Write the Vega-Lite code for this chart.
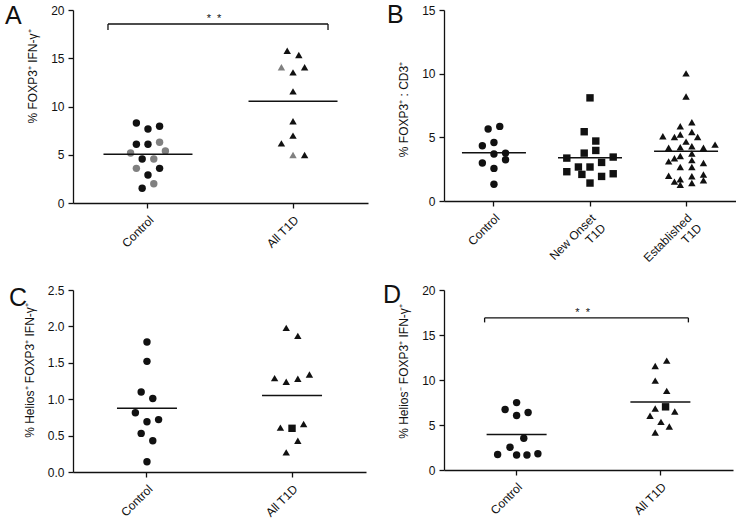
{
  "$schema": "https://vega.github.io/schema/vega-lite/v6.json",
  "padding": {"left": 5, "top": 3, "right": 0, "bottom": 0},
  "background": "white",
  "config": {
    "view": {"stroke": null},
    "font": "Liberation Sans",
    "axis": {
      "domainColor": "#111", "domainWidth": 1.3, "tickColor": "#111", "tickWidth": 1.3, "tickSize": 5,
      "labelColor": "#111", "labelFontSize": 12, "labelFont": "Liberation Sans", "labelPadding": 4, "labelOverlap": false,
      "titleColor": "#111", "titleFontSize": 12, "titleFontWeight": "normal", "titleFont": "Liberation Sans",
      "grid": false
    },
    "axisX": {"labelAngle": -45, "labelAlign": "right", "labelBaseline": "top", "labelPadding": 6, "title": null},
    "axisY": {"titlePadding": 11},
    "title": {"font": "Liberation Sans", "fontSize": 25, "fontWeight": "normal", "anchor": "start", "frame": "group", "color": "#111", "baseline": "alphabetic"}
  },
  "datasets": {
    "A": [
      {"group": "Control", "slot": -2, "value": 8.29, "cohort": "Control", "batch": "1"},
      {"group": "Control", "slot": 0, "value": 7.67, "cohort": "Control", "batch": "1"},
      {"group": "Control", "slot": 2, "value": 7.95, "cohort": "Control", "batch": "1"},
      {"group": "Control", "slot": -2, "value": 6.08, "cohort": "Control", "batch": "1"},
      {"group": "Control", "slot": 0, "value": 6.08, "cohort": "Control", "batch": "1"},
      {"group": "Control", "slot": 2, "value": 6.29, "cohort": "Control", "batch": "2"},
      {"group": "Control", "slot": -3, "value": 5.18, "cohort": "Control", "batch": "2"},
      {"group": "Control", "slot": 3, "value": 5.39, "cohort": "Control", "batch": "2"},
      {"group": "Control", "slot": -1, "value": 4.56, "cohort": "Control", "batch": "1"},
      {"group": "Control", "slot": 1, "value": 4.56, "cohort": "Control", "batch": "2"},
      {"group": "Control", "slot": -2, "value": 3.59, "cohort": "Control", "batch": "2"},
      {"group": "Control", "slot": 2, "value": 3.59, "cohort": "Control", "batch": "1"},
      {"group": "Control", "slot": 0, "value": 2.9, "cohort": "Control", "batch": "1"},
      {"group": "Control", "slot": 1, "value": 2.0, "cohort": "Control", "batch": "2"},
      {"group": "Control", "slot": -1, "value": 1.52, "cohort": "Control", "batch": "1"},
      {"group": "All T1D", "slot": -1, "value": 15.78, "cohort": "T1D", "batch": "1"},
      {"group": "All T1D", "slot": 1, "value": 15.34, "cohort": "T1D", "batch": "1"},
      {"group": "All T1D", "slot": -2, "value": 14.06, "cohort": "T1D", "batch": "2"},
      {"group": "All T1D", "slot": 2, "value": 14.06, "cohort": "T1D", "batch": "1"},
      {"group": "All T1D", "slot": 0, "value": 13.54, "cohort": "T1D", "batch": "1"},
      {"group": "All T1D", "slot": 0, "value": 11.57, "cohort": "T1D", "batch": "1"},
      {"group": "All T1D", "slot": 0, "value": 8.47, "cohort": "T1D", "batch": "1"},
      {"group": "All T1D", "slot": 0, "value": 6.98, "cohort": "T1D", "batch": "1"},
      {"group": "All T1D", "slot": -2, "value": 6.18, "cohort": "T1D", "batch": "1"},
      {"group": "All T1D", "slot": 0, "value": 4.97, "cohort": "T1D", "batch": "2"},
      {"group": "All T1D", "slot": 2, "value": 4.97, "cohort": "T1D", "batch": "1"}
    ],
    "B": [
      {"group": "Control", "slot": -1, "value": 5.65, "cohort": "Control"},
      {"group": "Control", "slot": 1, "value": 5.86, "cohort": "Control"},
      {"group": "Control", "slot": -2, "value": 4.34, "cohort": "Control"},
      {"group": "Control", "slot": 0, "value": 4.6, "cohort": "Control"},
      {"group": "Control", "slot": 0, "value": 3.69, "cohort": "Control"},
      {"group": "Control", "slot": 2, "value": 3.76, "cohort": "Control"},
      {"group": "Control", "slot": 2, "value": 3.24, "cohort": "Control"},
      {"group": "Control", "slot": -2, "value": 2.98, "cohort": "Control"},
      {"group": "Control", "slot": 0, "value": 2.56, "cohort": "Control"},
      {"group": "Control", "slot": 0, "value": 1.31, "cohort": "Control"},
      {"group": "New Onset T1D", "slot": 0, "value": 8.1, "cohort": "New onset T1D"},
      {"group": "New Onset T1D", "slot": -1, "value": 5.44, "cohort": "New onset T1D"},
      {"group": "New Onset T1D", "slot": 1, "value": 4.71, "cohort": "New onset T1D"},
      {"group": "New Onset T1D", "slot": 1, "value": 3.97, "cohort": "New onset T1D"},
      {"group": "New Onset T1D", "slot": -1, "value": 3.76, "cohort": "New onset T1D"},
      {"group": "New Onset T1D", "slot": -4, "value": 3.37, "cohort": "New onset T1D"},
      {"group": "New Onset T1D", "slot": 4, "value": 3.45, "cohort": "New onset T1D"},
      {"group": "New Onset T1D", "slot": 2, "value": 3.03, "cohort": "New onset T1D"},
      {"group": "New Onset T1D", "slot": -2, "value": 2.67, "cohort": "New onset T1D"},
      {"group": "New Onset T1D", "slot": 0, "value": 2.67, "cohort": "New onset T1D"},
      {"group": "New Onset T1D", "slot": -4, "value": 2.3, "cohort": "New onset T1D"},
      {"group": "New Onset T1D", "slot": -1.4, "value": 2.09, "cohort": "New onset T1D"},
      {"group": "New Onset T1D", "slot": 2, "value": 1.93, "cohort": "New onset T1D"},
      {"group": "New Onset T1D", "slot": 4, "value": 2.14, "cohort": "New onset T1D"},
      {"group": "New Onset T1D", "slot": 0, "value": 1.41, "cohort": "New onset T1D"},
      {"group": "Established T1D", "slot": 0, "value": 10.02, "cohort": "Established T1D"},
      {"group": "Established T1D", "slot": 0, "value": 8.21, "cohort": "Established T1D"},
      {"group": "Established T1D", "slot": 1, "value": 6.18, "cohort": "Established T1D"},
      {"group": "Established T1D", "slot": -1, "value": 5.87, "cohort": "Established T1D"},
      {"group": "Established T1D", "slot": -4, "value": 5.08, "cohort": "Established T1D"},
      {"group": "Established T1D", "slot": -2, "value": 5.03, "cohort": "Established T1D"},
      {"group": "Established T1D", "slot": -1, "value": 5.22, "cohort": "Established T1D"},
      {"group": "Established T1D", "slot": 1, "value": 5.42, "cohort": "Established T1D"},
      {"group": "Established T1D", "slot": 2, "value": 5.03, "cohort": "Established T1D"},
      {"group": "Established T1D", "slot": 0, "value": 4.66, "cohort": "Established T1D"},
      {"group": "Established T1D", "slot": 5, "value": 4.43, "cohort": "Established T1D"},
      {"group": "Established T1D", "slot": -3, "value": 4.18, "cohort": "Established T1D"},
      {"group": "Established T1D", "slot": -1, "value": 4.22, "cohort": "Established T1D"},
      {"group": "Established T1D", "slot": 1, "value": 4.3, "cohort": "Established T1D"},
      {"group": "Established T1D", "slot": 3, "value": 4.18, "cohort": "Established T1D"},
      {"group": "Established T1D", "slot": 1, "value": 3.73, "cohort": "Established T1D"},
      {"group": "Established T1D", "slot": -1, "value": 3.54, "cohort": "Established T1D"},
      {"group": "Established T1D", "slot": -2, "value": 3.36, "cohort": "Established T1D"},
      {"group": "Established T1D", "slot": -3, "value": 3.11, "cohort": "Established T1D"},
      {"group": "Established T1D", "slot": 1, "value": 3.21, "cohort": "Established T1D"},
      {"group": "Established T1D", "slot": 3, "value": 2.99, "cohort": "Established T1D"},
      {"group": "Established T1D", "slot": -1, "value": 2.67, "cohort": "Established T1D"},
      {"group": "Established T1D", "slot": 1, "value": 2.67, "cohort": "Established T1D"},
      {"group": "Established T1D", "slot": -3, "value": 1.98, "cohort": "Established T1D"},
      {"group": "Established T1D", "slot": -2, "value": 1.52, "cohort": "Established T1D"},
      {"group": "Established T1D", "slot": -1, "value": 1.71, "cohort": "Established T1D"},
      {"group": "Established T1D", "slot": -1, "value": 1.27, "cohort": "Established T1D"},
      {"group": "Established T1D", "slot": 1, "value": 1.94, "cohort": "Established T1D"},
      {"group": "Established T1D", "slot": 1, "value": 1.41, "cohort": "Established T1D"},
      {"group": "Established T1D", "slot": 3, "value": 2.08, "cohort": "Established T1D"},
      {"group": "Established T1D", "slot": 3, "value": 1.63, "cohort": "Established T1D"}
    ],
    "C": [
      {"group": "Control", "slot": 0, "value": 1.786, "cohort": "Control"},
      {"group": "Control", "slot": 0, "value": 1.52, "cohort": "Control"},
      {"group": "Control", "slot": -1, "value": 1.1, "cohort": "Control"},
      {"group": "Control", "slot": 1, "value": 1.01, "cohort": "Control"},
      {"group": "Control", "slot": -2, "value": 0.815, "cohort": "Control"},
      {"group": "Control", "slot": 0, "value": 0.69, "cohort": "Control"},
      {"group": "Control", "slot": 2, "value": 0.72, "cohort": "Control"},
      {"group": "Control", "slot": -1, "value": 0.53, "cohort": "Control"},
      {"group": "Control", "slot": 1, "value": 0.43, "cohort": "Control"},
      {"group": "Control", "slot": 0, "value": 0.14, "cohort": "Control"},
      {"group": "All T1D", "slot": -1, "value": 1.98, "cohort": "T1D"},
      {"group": "All T1D", "slot": 1, "value": 1.87, "cohort": "T1D"},
      {"group": "All T1D", "slot": -3, "value": 1.29, "cohort": "T1D"},
      {"group": "All T1D", "slot": -1, "value": 1.24, "cohort": "T1D"},
      {"group": "All T1D", "slot": 1, "value": 1.28, "cohort": "T1D"},
      {"group": "All T1D", "slot": 3, "value": 1.34, "cohort": "T1D"},
      {"group": "All T1D", "slot": -2, "value": 0.61, "cohort": "T1D"},
      {"group": "All T1D", "slot": 0, "value": 0.6, "cohort": "New onset T1D"},
      {"group": "All T1D", "slot": 2, "value": 0.66, "cohort": "T1D"},
      {"group": "All T1D", "slot": 1, "value": 0.43, "cohort": "T1D"},
      {"group": "All T1D", "slot": -1, "value": 0.27, "cohort": "T1D"}
    ],
    "D": [
      {"group": "Control", "slot": 0, "value": 7.49, "cohort": "Control"},
      {"group": "Control", "slot": -2, "value": 6.72, "cohort": "Control"},
      {"group": "Control", "slot": 0, "value": 6.05, "cohort": "Control"},
      {"group": "Control", "slot": 2, "value": 6.39, "cohort": "Control"},
      {"group": "Control", "slot": 1.25, "value": 3.52, "cohort": "Control"},
      {"group": "Control", "slot": -1.15, "value": 2.52, "cohort": "Control"},
      {"group": "Control", "slot": -3.3, "value": 1.73, "cohort": "Control"},
      {"group": "Control", "slot": 0, "value": 1.66, "cohort": "Control"},
      {"group": "Control", "slot": 1.8, "value": 1.66, "cohort": "Control"},
      {"group": "Control", "slot": 3.7, "value": 1.81, "cohort": "Control"},
      {"group": "All T1D", "slot": 1.1, "value": 12.15, "cohort": "T1D"},
      {"group": "All T1D", "slot": -0.9, "value": 11.56, "cohort": "T1D"},
      {"group": "All T1D", "slot": -0.9, "value": 9.93, "cohort": "T1D"},
      {"group": "All T1D", "slot": 1.1, "value": 8.79, "cohort": "T1D"},
      {"group": "All T1D", "slot": 0.9, "value": 7.02, "cohort": "New onset T1D"},
      {"group": "All T1D", "slot": -0.9, "value": 6.83, "cohort": "T1D"},
      {"group": "All T1D", "slot": 2.5, "value": 6.5, "cohort": "T1D"},
      {"group": "All T1D", "slot": -1.8, "value": 6.02, "cohort": "T1D"},
      {"group": "All T1D", "slot": 0.1, "value": 5.35, "cohort": "T1D"},
      {"group": "All T1D", "slot": 1.55, "value": 4.83, "cohort": "T1D"},
      {"group": "All T1D", "slot": -0.9, "value": 4.17, "cohort": "T1D"}
    ],
    "sigA": [{"from": "Control", "to": "All T1D", "top": 18.55, "foot": 17.93, "label": "*\u00a0\u00a0*"}],
    "sigD": [{"from": "Control", "to": "All T1D", "top": 16.9, "foot": 16.4, "label": "*\u00a0\u00a0*"}]
  },
  "columns": 2,
  "spacing": {"row": 9, "column": 15},
  "resolve": {"scale": {"x": "independent", "y": "independent", "xOffset": "independent", "shape": "independent", "color": "independent"}},
  "concat": [
    {
      "width": 295, "height": 193,
      "title": {"text": "A", "dx": -68, "offset": -25},
      "layer": [
        {
          "data": {"name": "A"},
          "mark": {"type": "point", "filled": true, "size": 55, "opacity": 1, "strokeWidth": 0},
          "encoding": {
            "x": {"field": "group", "type": "nominal", "scale": {"domain": ["Control", "All T1D"], "paddingInner": 0, "paddingOuter": 0.017}},
            "xOffset": {"field": "slot", "type": "quantitative", "scale": {"domain": [-12.5, 12.5]}},
            "y": {"field": "value", "type": "quantitative", "scale": {"domain": [0, 20], "nice": false}, "axis": {"values": [0, 5, 10, 15, 20], "title": "% FOXP3⁺ IFN-γ⁺", "titleY": 66}},
            "shape": {"field": "cohort", "type": "nominal", "legend": null, "scale": {"domain": ["Control", "New onset T1D", "Established T1D", "T1D"], "range": ["circle", "square", "triangle-up", "triangle-up"]}},
            "color": {"field": "batch", "type": "nominal", "legend": null, "scale": {"domain": ["1", "2"], "range": ["#111111", "#808080"]}}
          }
        },
        {
          "data": {"name": "A"},
          "mark": {"type": "tick", "orient": "horizontal", "size": 89, "thickness": 1.5, "color": "#111"},
          "encoding": {
            "x": {"field": "group", "type": "nominal"},
            "y": {"aggregate": "mean", "field": "value", "type": "quantitative", "axis": {"values": [0, 5, 10, 15, 20], "title": "% FOXP3⁺ IFN-γ⁺", "titleY": 66}}
          }
        },
        {
          "data": {"name": "sigA"},
          "mark": {"type": "rule", "xOffset": -40, "x2Offset": 35, "strokeWidth": 1.3, "color": "#111"},
          "encoding": {"x": {"field": "from", "type": "nominal"}, "x2": {"field": "to"}, "y": {"field": "top", "type": "quantitative", "axis": {"values": [0, 5, 10, 15, 20], "title": "% FOXP3⁺ IFN-γ⁺", "titleY": 66}}}
        },
        {
          "data": {"name": "sigA"},
          "mark": {"type": "rule", "xOffset": -40, "strokeWidth": 1.3, "color": "#111"},
          "encoding": {"x": {"field": "from", "type": "nominal"}, "y": {"field": "top", "type": "quantitative", "axis": {"values": [0, 5, 10, 15, 20], "title": "% FOXP3⁺ IFN-γ⁺", "titleY": 66}}, "y2": {"field": "foot"}}
        },
        {
          "data": {"name": "sigA"},
          "mark": {"type": "rule", "xOffset": 35, "strokeWidth": 1.3, "color": "#111"},
          "encoding": {"x": {"field": "to", "type": "nominal"}, "y": {"field": "top", "type": "quantitative", "axis": {"values": [0, 5, 10, 15, 20], "title": "% FOXP3⁺ IFN-γ⁺", "titleY": 66}}, "y2": {"field": "foot"}}
        },
        {
          "data": {"name": "sigA"},
          "mark": {"type": "text", "dx": 66, "dy": -2, "baseline": "alphabetic", "align": "center", "fontSize": 11, "color": "#111", "font": "Liberation Sans"},
          "encoding": {"x": {"field": "from", "type": "nominal"}, "y": {"field": "top", "type": "quantitative", "axis": {"values": [0, 5, 10, 15, 20], "title": "% FOXP3⁺ IFN-γ⁺", "titleY": 66}}, "text": {"field": "label"}}
        }
      ]
    },
    {
      "width": 292, "height": 191,
      "title": {"text": "B", "dx": -57, "offset": -24},
      "layer": [
        {
          "data": {"name": "B"},
          "mark": {"type": "point", "filled": true, "size": 55, "opacity": 1, "strokeWidth": 0, "color": "#111"},
          "encoding": {
            "x": {"field": "group", "type": "nominal", "scale": {"domain": ["Control", "New Onset T1D", "Established T1D"], "paddingInner": 0, "paddingOuter": 0.02},
                  "axis": {"labelExpr": "datum.value == 'New Onset T1D' ? ['New Onset', 'T1D'] : datum.value == 'Established T1D' ? ['Established', 'T1D'] : datum.value"}},
            "xOffset": {"field": "slot", "type": "quantitative", "scale": {"domain": [-8.28, 8.28]}},
            "y": {"field": "value", "type": "quantitative", "scale": {"domain": [0, 15], "nice": false}, "axis": {"values": [0, 5, 10, 15], "title": "% FOXP3⁺ : CD3⁺", "titleY": 99}},
            "shape": {"field": "cohort", "type": "nominal", "legend": null, "scale": {"domain": ["Control", "New onset T1D", "Established T1D", "T1D"], "range": ["circle", "square", "triangle-up", "triangle-up"]}}
          }
        },
        {
          "data": {"name": "B"},
          "mark": {"type": "tick", "orient": "horizontal", "size": 64, "thickness": 1.5, "color": "#111"},
          "encoding": {
            "x": {"field": "group", "type": "nominal", "axis": {"labelExpr": "datum.value == 'New Onset T1D' ? ['New Onset', 'T1D'] : datum.value == 'Established T1D' ? ['Established', 'T1D'] : datum.value"}},
            "y": {"aggregate": "mean", "field": "value", "type": "quantitative", "axis": {"values": [0, 5, 10, 15], "title": "% FOXP3⁺ : CD3⁺", "titleY": 99}}
          }
        }
      ]
    },
    {
      "width": 293, "height": 182,
      "title": {"text": "C", "dx": -64, "offset": -27},
      "layer": [
        {
          "data": {"name": "C"},
          "mark": {"type": "point", "filled": true, "size": 55, "opacity": 1, "strokeWidth": 0, "color": "#111"},
          "encoding": {
            "x": {"field": "group", "type": "nominal", "scale": {"domain": ["Control", "All T1D"], "paddingInner": 0, "paddingOuter": 0.01}},
            "xOffset": {"field": "slot", "type": "quantitative", "scale": {"domain": [-12.5, 12.5]}},
            "y": {"field": "value", "type": "quantitative", "scale": {"domain": [0, 2.5], "nice": false}, "axis": {"values": [0, 0.5, 1, 1.5, 2, 2.5], "format": ".1f", "title": "% Helios⁺ FOXP3⁺ IFN-γ⁺", "titleY": 80}},
            "shape": {"field": "cohort", "type": "nominal", "legend": null, "scale": {"domain": ["Control", "New onset T1D", "Established T1D", "T1D"], "range": ["circle", "square", "triangle-up", "triangle-up"]}}
          }
        },
        {
          "data": {"name": "C"},
          "mark": {"type": "tick", "orient": "horizontal", "size": 60, "thickness": 1.5, "color": "#111"},
          "encoding": {
            "x": {"field": "group", "type": "nominal"},
            "y": {"aggregate": "mean", "field": "value", "type": "quantitative", "axis": {"values": [0, 0.5, 1, 1.5, 2, 2.5], "format": ".1f", "title": "% Helios⁺ FOXP3⁺ IFN-γ⁺", "titleY": 80}}
          }
        }
      ]
    },
    {
      "width": 289, "height": 180,
      "title": {"text": "D", "dx": -61, "offset": -24},
      "layer": [
        {
          "data": {"name": "D"},
          "mark": {"type": "point", "filled": true, "size": 55, "opacity": 1, "strokeWidth": 0, "color": "#111"},
          "encoding": {
            "x": {"field": "group", "type": "nominal", "scale": {"domain": ["Control", "All T1D"], "paddingInner": 0, "paddingOuter": 0.005}},
            "xOffset": {"field": "slot", "type": "quantitative", "scale": {"domain": [-12.5, 12.5]}},
            "y": {"field": "value", "type": "quantitative", "scale": {"domain": [0, 20], "nice": false}, "axis": {"values": [0, 5, 10, 15, 20], "title": "% Helios⁻ FOXP3⁺ IFN-γ⁺", "titleY": 81}},
            "shape": {"field": "cohort", "type": "nominal", "legend": null, "scale": {"domain": ["Control", "New onset T1D", "Established T1D", "T1D"], "range": ["circle", "square", "triangle-up", "triangle-up"]}}
          }
        },
        {
          "data": {"name": "D"},
          "mark": {"type": "tick", "orient": "horizontal", "size": 60, "thickness": 1.5, "color": "#111"},
          "encoding": {
            "x": {"field": "group", "type": "nominal"},
            "y": {"aggregate": "mean", "field": "value", "type": "quantitative", "axis": {"values": [0, 5, 10, 15, 20], "title": "% Helios⁻ FOXP3⁺ IFN-γ⁺", "titleY": 81}}
          }
        },
        {
          "data": {"name": "sigD"},
          "mark": {"type": "rule", "xOffset": -32, "x2Offset": 28, "strokeWidth": 1.3, "color": "#111"},
          "encoding": {"x": {"field": "from", "type": "nominal"}, "x2": {"field": "to"}, "y": {"field": "top", "type": "quantitative", "axis": {"values": [0, 5, 10, 15, 20], "title": "% Helios⁻ FOXP3⁺ IFN-γ⁺", "titleY": 81}}}
        },
        {
          "data": {"name": "sigD"},
          "mark": {"type": "rule", "xOffset": -32, "strokeWidth": 1.3, "color": "#111"},
          "encoding": {"x": {"field": "from", "type": "nominal"}, "y": {"field": "top", "type": "quantitative", "axis": {"values": [0, 5, 10, 15, 20], "title": "% Helios⁻ FOXP3⁺ IFN-γ⁺", "titleY": 81}}, "y2": {"field": "foot"}}
        },
        {
          "data": {"name": "sigD"},
          "mark": {"type": "rule", "xOffset": 28, "strokeWidth": 1.3, "color": "#111"},
          "encoding": {"x": {"field": "to", "type": "nominal"}, "y": {"field": "top", "type": "quantitative", "axis": {"values": [0, 5, 10, 15, 20], "title": "% Helios⁻ FOXP3⁺ IFN-γ⁺", "titleY": 81}}, "y2": {"field": "foot"}}
        },
        {
          "data": {"name": "sigD"},
          "mark": {"type": "text", "dx": 66, "dy": -2, "baseline": "alphabetic", "align": "center", "fontSize": 11, "color": "#111", "font": "Liberation Sans"},
          "encoding": {"x": {"field": "from", "type": "nominal"}, "y": {"field": "top", "type": "quantitative", "axis": {"values": [0, 5, 10, 15, 20], "title": "% Helios⁻ FOXP3⁺ IFN-γ⁺", "titleY": 81}}, "text": {"field": "label"}}
        }
      ]
    }
  ]
}
